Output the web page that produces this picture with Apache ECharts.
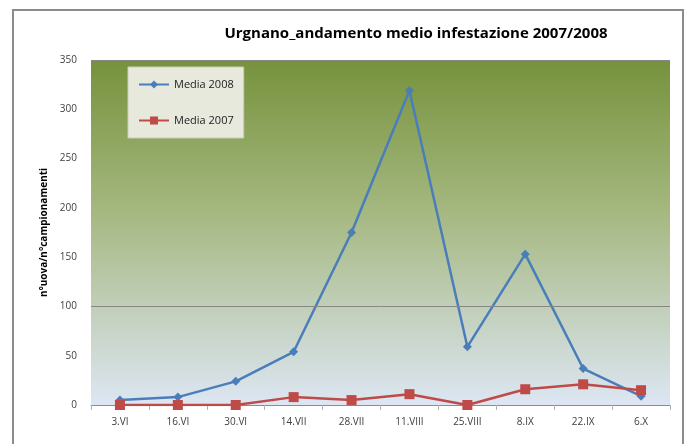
<!DOCTYPE html>
<html>
<head>
<meta charset="utf-8">
<script src="https://cdn.jsdelivr.net/npm/echarts@6/dist/echarts.min.js"></script>
<style>
  html, body { margin: 0; padding: 0; background: #fff; }
  #chart { width: 691px; height: 444px; }
</style>
</head>
<body>
<div id="chart"></div>
<script>
// dati
const categories = ['3.VI', '16.VI', '30.VI', '14.VII', '28.VII', '11.VIII', '25.VIII', '8.IX', '22.IX', '6.X'];
const media2008 = [5, 8, 24, 54, 175, 319, 59, 153, 37, 9];
const media2007 = [0, 0, 0, 8, 5, 11, 0, 16, 21, 15];
const yTicks = [0, 50, 100, 150, 200, 250, 300, 350];

const chart = echarts.init(document.getElementById('chart'));

const option = {
    animation: false,
    title: {
        text: 'Urgnano_andamento medio infestazione 2007/2008',
        left: 411,
        top: 21,
        textAlign: 'center',
        textStyle: {
            fontFamily: 'Open Sans',
            fontSize: 15,
            fontWeight: 'bold',
            color: '#000'
        }
    },
    graphic: [
        {
            type: 'rect',
            shape: { x: 13, y: 10, width: 670, height: 450 },
            style: { fill: 'none', stroke: '#8c8c8c', lineWidth: 2 },
            silent: true
        }
    ],
    legend: {
        orient: 'vertical',
        left: 128,
        top: 67,
        itemGap: 25,
        itemWidth: 30,
        itemHeight: 10,
        padding: [12, 10, 12, 10],
        backgroundColor: '#e6e9dc',
        borderColor: '#c8cfb8',
        borderWidth: 1,
        textStyle: { fontFamily: 'Open Sans', fontSize: 11, color: '#222' },
        data: ['Media 2008', 'Media 2007']
    },
    grid: {
        left: 91,
        right: 21,
        top: 60,
        bottom: 39,
        show: true,
        borderWidth: 0,
        backgroundColor: new echarts.graphic.LinearGradient(0, 0, 0, 1, [
            { offset: 0, color: '#76923c' },
            { offset: 0.45, color: '#a6b982' },
            { offset: 1, color: '#dde6f3' }
        ])
    },
    xAxis: {
        type: 'category',
        data: categories,
        boundaryGap: true,
        axisLine: { lineStyle: { color: '#8c8c8c', width: 1 } },
        axisTick: { show: true, length: 5, lineStyle: { color: '#b0b0b0' } },
        axisLabel: { color: '#404040', fontSize: 10, fontFamily: 'Open Sans', margin: 12 }
    },
    yAxis: {
        type: 'value',
        min: 0,
        max: 350,
        interval: 50,
        name: 'n°uova/n°campionamenti',
        nameLocation: 'middle',
        nameGap: 40,
        nameTextStyle: { fontFamily: 'Open Sans', fontSize: 10, fontWeight: 'bold', color: '#000' },
        axisLine: { show: false },
        axisTick: { show: false },
        axisLabel: {
            color: '#404040',
            fontSize: 10,
            fontFamily: 'Open Sans',
            margin: 14,
            formatter: v => yTicks.includes(v) ? String(v) : ''
        },
        splitLine: { show: false }
    },
    series: [
        {
            name: 'Media 2008',
            type: 'line',
            data: media2008,
            symbol: 'diamond',
            symbolSize: 9,
            lineStyle: { color: '#4a7ebb', width: 2.5 },
            itemStyle: { color: '#4a7ebb' },
            markLine: {
                silent: true,
                symbol: 'none',
                label: { show: false },
                lineStyle: { color: '#868686', width: 1, type: 'solid' },
                data: [{ yAxis: 100 }, { yAxis: 350 }]
            },
            z: 3
        },
        {
            name: 'Media 2007',
            type: 'line',
            data: media2007,
            symbol: 'rect',
            symbolSize: 10,
            lineStyle: { color: '#be4b48', width: 2.5 },
            itemStyle: { color: '#be4b48' },
            z: 4
        }
    ]
};

chart.setOption(option);
</script>
</body>
</html>
